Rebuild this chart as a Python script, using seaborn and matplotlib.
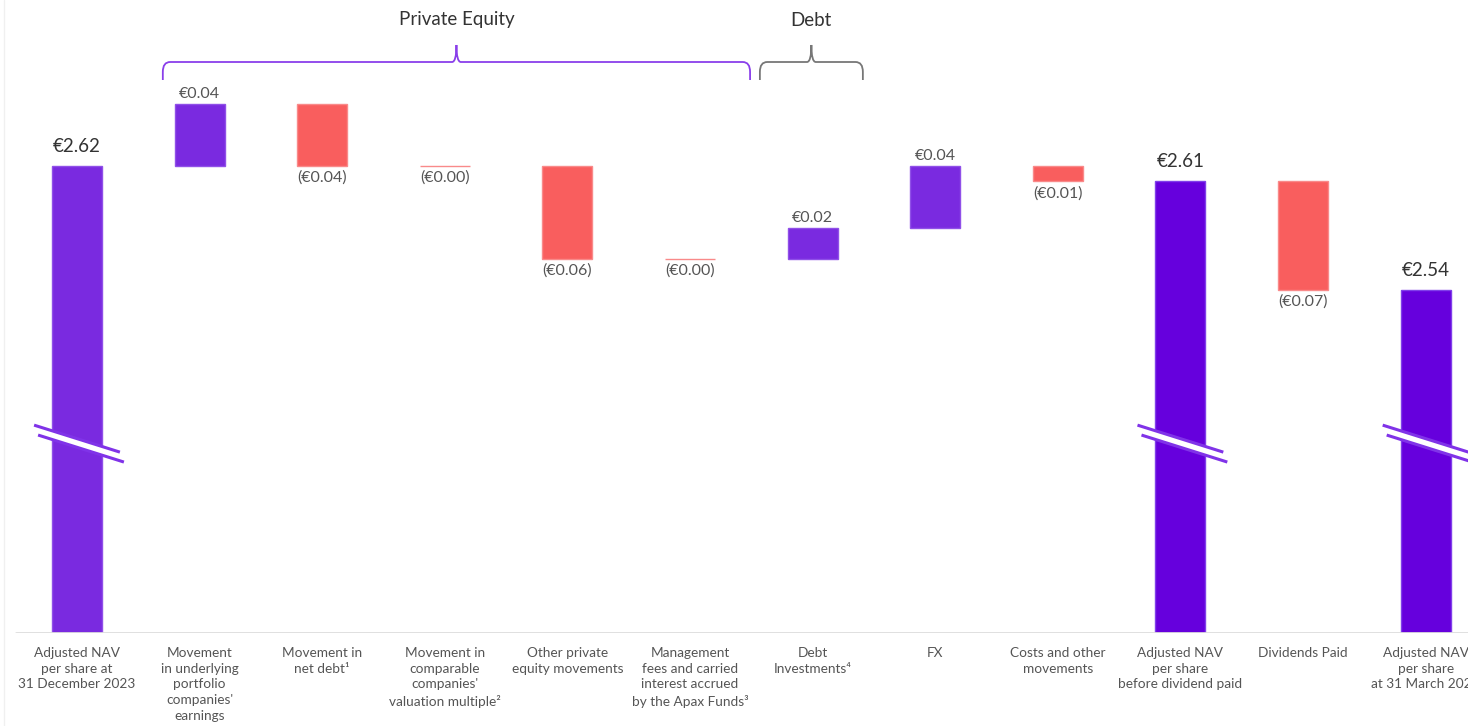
import numpy as np
import pandas as pd
import seaborn as sns
import matplotlib.pyplot as plt
from matplotlib.path import Path
from matplotlib.patches import PathPatch, Polygon
from matplotlib.lines import Line2D
from matplotlib.transforms import blended_transform_factory

# --- data -------------------------------------------------------------
categories = [
    "Adjusted NAV\nper share at\n31 December 2023",
    "Movement\nin underlying\nportfolio\ncompanies'\nearnings",
    "Movement in\nnet debt\u00b9",
    "Movement in\ncomparable\ncompanies'\nvaluation multiple\u00b2",
    "Other private\nequity movements",
    "Management\nfees and carried\ninterest accrued\nby the Apax Funds\u00b3",
    "Debt\nInvestments\u2074",
    "FX",
    "Costs and other\nmovements",
    "Adjusted NAV\nper share\nbefore dividend paid",
    "Dividends Paid",
    "Adjusted NAV\nper share\nat 31 March 2024",
]
values = [2.62, 0.04, 0.04, 0.00, 0.06, 0.00, 0.02, 0.04, 0.01, 2.61, 0.07, 2.54]
kinds = ["start", "inc", "dec", "dec", "dec", "dec", "inc", "inc", "dec",
         "subtotal", "dec", "end"]

groups = ["Private Equity", "Debt"]
group_spans = [(0.70, 5.49), (5.57, 6.41)]

# --- styling ----------------------------------------------------------
sns.set_theme(style="white")
plt.rcParams["font.family"] = ["Lato", "DejaVu Sans"]

PURPLE = "#7A2AE0"
DEEP = "#6600DD"
RED = "#F95E5E"
colors = {"start": PURPLE, "inc": PURPLE, "dec": RED, "subtotal": DEEP, "end": DEEP}
edges = {"start": "#9050E8", "inc": "#9050E8", "dec": "#F98A8A",
         "subtotal": "#8040EA", "end": "#8040EA"}

BASE = 2.3187          # value at the broken axis baseline
SCALE = 1550.0         # pixels per euro
TOP = BASE + 633 / SCALE

# --- waterfall geometry -------------------------------------------------
bottoms, heights = [], []
running = 0.0
for v, k in zip(values, kinds):
    if k in ("start", "subtotal", "end"):
        bottoms.append(BASE)
        heights.append(v - BASE)
        running = v
    elif k == "inc":
        bottoms.append(running)
        heights.append(v)
        running += v
    else:
        bottoms.append(running)
        heights.append(-v)
        running -= v

df = pd.DataFrame({"cat": categories, "bottom": bottoms, "height": heights, "kind": kinds})

fig = plt.figure(figsize=(14.68, 7.26), dpi=100)
ax = fig.add_axes([0, 93 / 726, 1, 633 / 726])

for kind in ["start", "inc", "dec", "subtotal", "end"]:
    sub = df[df["kind"] == kind]
    if sub.empty:
        continue
    sns.barplot(data=sub, x="cat", y="height", order=categories,
                bottom=sub["bottom"].to_numpy(), color=colors[kind],
                saturation=1, width=0.408, errorbar=None,
                edgecolor=edges[kind], linewidth=1.0, ax=ax)

ax.set_xlim(-77 / 122.6, (1468 - 77) / 122.6)
ax.set_ylim(BASE, TOP)
for s in ax.spines.values():
    s.set_visible(False)
ax.set_yticks([])
ax.set_ylabel("")
ax.set_xlabel("")

# baseline and faint left frame edge
ax.axhline(BASE, xmin=16 / 1468, xmax=1, color="#DDDDDD", lw=2, zorder=1)
fig.add_artist(Line2D([4 / 1468, 4 / 1468], [0, 1], color="#F0F0F0", lw=1))

# category labels
ax.set_xticks(range(len(categories)))
ax.set_xticklabels(categories, fontsize=9.8, color="#555555", linespacing=1.38)
ax.tick_params(axis="x", length=0, pad=10)

# value labels
for i, (v, k, b, h) in enumerate(zip(values, kinds, bottoms, heights)):
    top = b + max(h, 0)
    low = b + min(h, 0)
    if k in ("start", "subtotal", "end"):
        ax.annotate(f"\u20ac{v:.2f}", (i, top), xytext=(0, 8), textcoords="offset points",
                    ha="center", va="bottom", fontsize=13.5, color="#333333")
    elif k == "inc":
        ax.annotate(f"\u20ac{v:.2f}", (i, top), xytext=(0, 2), textcoords="offset points",
                    ha="center", va="bottom", fontsize=11.5, color="#555555")
    else:
        ax.annotate(f"(\u20ac{v:.2f})", (i, low), xytext=(0, -3.5), textcoords="offset points",
                    ha="center", va="top", fontsize=11.5, color="#555555")

# axis break marks on the full-height bars
for i, k in enumerate(kinds):
    if k not in ("start", "subtotal", "end"):
        continue
    hx, dy = 0.35, 27 / SCALE / 2
    yu, yl = 2.4441, 2.4377
    xs = np.array([i - hx, i + hx])
    xsl = xs + 4 / 122.6
    band = Polygon([[xs[0], yu + dy], [xs[1], yu - dy], [xsl[1], yl - dy], [xsl[0], yl + dy]],
                   closed=True, facecolor="white", edgecolor="none", zorder=5)
    ax.add_patch(band)
    ax.plot(xs, [yu + dy, yu - dy], color="#8033E8", lw=2.2, zorder=6, solid_capstyle="butt")
    ax.plot(xsl, [yl + dy, yl - dy], color="#8033E8", lw=2.2, zorder=6, solid_capstyle="butt")

# group braces
trans = blended_transform_factory(ax.transData, ax.transAxes)
y_end, y_bar, y_tip = 1 - 80 / 633, 1 - 62 / 633, 1 - 45 / 633
r = 0.06
brace_colors = ["#8A3FEA", "#777777"]
for (x0, x1), name, c in zip(group_spans, groups, brace_colors):
    xm = (x0 + x1) / 2
    ry = (y_bar - y_end) * 0.55
    verts = [
        (x0, y_end), (x0, y_bar - ry), (x0, y_bar), (x0 + r, y_bar),
        (xm - r * 0.6, y_bar), (xm, y_bar), (xm, y_tip),
        (xm, y_bar), (xm + r * 0.6, y_bar),
        (x1 - r, y_bar), (x1, y_bar), (x1, y_bar - ry), (x1, y_end),
    ]
    codes = [Path.MOVETO, Path.LINETO, Path.CURVE3, Path.CURVE3,
             Path.LINETO, Path.CURVE3, Path.CURVE3,
             Path.CURVE3, Path.CURVE3,
             Path.LINETO, Path.CURVE3, Path.CURVE3, Path.LINETO]
    ax.add_patch(PathPatch(Path(verts, codes), transform=trans, fill=False,
                           edgecolor=c, lw=1.3, clip_on=False))
    ax.text(xm, 1 - 20 / 633, name, transform=trans, ha="center", va="center",
            fontsize=13.5, color="#333333")

fig.savefig("out.png", dpi=100)
